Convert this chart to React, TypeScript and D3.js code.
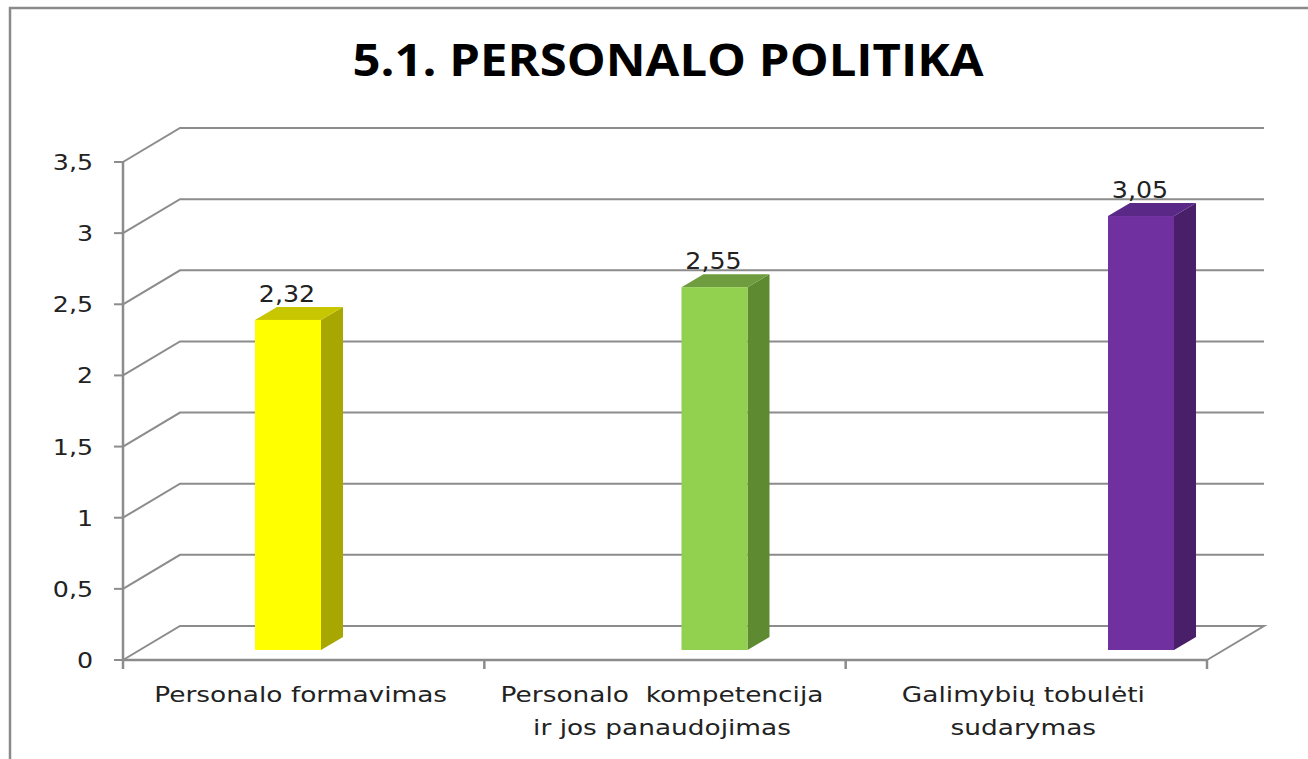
import React, { useEffect, useRef } from 'react';
import * as d3 from 'd3';

const categories = ['Personalo formavimas', 'Personalo kompetencija', 'Galimybių tobulėti'];
const categoryLines = [
  ['Personalo formavimas'],
  ['Personalo  kompetencija', 'ir jos panaudojimas'],
  ['Galimybių tobulėti', 'sudarymas'],
];
const values = [2.32, 2.55, 3.05];
const valueLabels = ['2,32', '2,55', '3,05'];
const yTicks = [0, 0.5, 1, 1.5, 2, 2.5, 3, 3.5];
const yTickLabels = ['0', '0,5', '1', '1,5', '2', '2,5', '3', '3,5'];
const frontColors = ['#ffff00', '#92d050', '#7030a0'];
const topColors = ['#c8c600', '#6e9c3e', '#5a2886'];
const sideColors = ['#a8a600', '#5e8a32', '#481f68'];

const W = 1308;
const H = 759;
const FONT = 'DejaVu Sans, Verdana, sans-serif';

const App: React.FC = () => {
  const ref = useRef<SVGSVGElement>(null);

  useEffect(() => {
    const svg = d3.select(ref.current);
    svg.selectAll('*').remove();

    const left = 123;
    const right = 1207;
    const wall = { dx: 57, dy: -34 };
    const barShift = { dx: 17, dy: -10 };
    const barDepth = { dx: 22, dy: -13 };
    const barW = 66;
    const grid = '#8c8c8c';

    const y = d3.scaleLinear().domain([0, 3.5]).range([660, 162]);
    const xCat = d3.scaleBand().domain(categories).range([left, right]);
    const xBar = d3.scalePoint().domain(categories).range([288 - barShift.dx, 1141 - barShift.dx]);

    // frame
    svg.append('path')
      .attr('d', `M10,${H} L10,8 L${W},8`)
      .attr('fill', 'none')
      .attr('stroke', '#8a8a8a')
      .attr('stroke-width', 2.5);

    // title
    svg.append('text')
      .attr('x', 668)
      .attr('y', 76)
      .attr('text-anchor', 'middle')
      .attr('font-family', 'Open Sans, sans-serif')
      .attr('font-weight', 'bold')
      .attr('font-size', 44)
      .attr('textLength', 631)
      .attr('lengthAdjust', 'spacingAndGlyphs')
      .attr('fill', '#000')
      .text('5.1. PERSONALO POLITIKA');

    // gridlines (side wall + back wall)
    const g = svg.append('g');
    yTicks.forEach((t) => {
      const yy = y(t);
      const pts: [number, number][] =
        t === 0
          ? [[left, yy], [left + wall.dx, yy + wall.dy], [right + wall.dx, yy + wall.dy], [right, yy]]
          : [[left, yy], [left + wall.dx, yy + wall.dy], [right + wall.dx, yy + wall.dy]];
      g.append('path')
        .attr('d', d3.line()(pts))
        .attr('fill', 'none')
        .attr('stroke', grid)
        .attr('stroke-width', 2);
      g.append('line')
        .attr('x1', left - 9)
        .attr('x2', left)
        .attr('y1', yy)
        .attr('y2', yy)
        .attr('stroke', grid)
        .attr('stroke-width', 2);
    });

    // axes
    g.append('line')
      .attr('x1', left).attr('x2', left)
      .attr('y1', y(3.5)).attr('y2', y(0) + 1)
      .attr('stroke', grid).attr('stroke-width', 2.5);
    g.append('line')
      .attr('x1', left).attr('x2', right)
      .attr('y1', y(0)).attr('y2', y(0))
      .attr('stroke', grid).attr('stroke-width', 2.5);
    const catTicks = categories.map((c) => xCat(c) as number).concat([right]);
    catTicks.forEach((cx) => {
      g.append('line')
        .attr('x1', cx).attr('x2', cx)
        .attr('y1', y(0)).attr('y2', y(0) + 9)
        .attr('stroke', grid).attr('stroke-width', 2.5);
    });

    // y tick labels
    yTicks.forEach((t, i) => {
      svg.append('text')
        .attr('transform', `translate(93,${y(t)}) scale(1.15,1)`)
        .attr('dy', '0.36em')
        .attr('text-anchor', 'end')
        .attr('font-family', FONT)
        .attr('font-size', 22)
        .attr('fill', '#222')
        .text(yTickLabels[i]);
    });

    // bars
    const bars = svg.append('g');
    values.forEach((v, i) => {
      const x0 = (xBar(categories[i]) as number) + barShift.dx - barW / 2;
      const x1 = x0 + barW;
      const yb = y(0) + barShift.dy;
      const yt = y(v) + barShift.dy;
      const { dx, dy } = barDepth;
      bars.append('path')
        .attr('d', `M${x1},${yb} L${x1 + dx},${yb + dy} L${x1 + dx},${yt + dy} L${x1},${yt} Z`)
        .attr('fill', sideColors[i]);
      bars.append('path')
        .attr('d', `M${x0},${yt} L${x0 + dx},${yt + dy} L${x1 + dx},${yt + dy} L${x1},${yt} Z`)
        .attr('fill', topColors[i]);
      bars.append('rect')
        .attr('x', x0)
        .attr('y', yt)
        .attr('width', barW)
        .attr('height', yb - yt)
        .attr('fill', frontColors[i]);
      bars.append('text')
        .attr('transform', `translate(${x0 + barW / 2 - 1},${yt - 18}) scale(1.1,1)`)
        .attr('text-anchor', 'middle')
        .attr('font-family', FONT)
        .attr('font-size', 23)
        .attr('fill', '#222')
        .text(valueLabels[i]);
    });

    // category labels
    categoryLines.forEach((lines, i) => {
      const cx = (xCat(categories[i]) as number) + xCat.bandwidth() / 2 - 3;
      lines.forEach((line, j) => {
        svg.append('text')
          .attr('transform', `translate(${cx},${702 + j * 33}) scale(1.2,1)`)
          .attr('text-anchor', 'middle')
          .attr('font-family', FONT)
          .attr('font-size', 22)
          .attr('fill', '#222')
          .style('white-space', 'pre')
          .text(line);
      });
    });
  }, []);

  return (
    <svg
      ref={ref}
      width={W}
      height={H}
      style={{ position: 'absolute', left: 0, top: 0, background: '#fff' }}
    />
  );
};

export default App;
